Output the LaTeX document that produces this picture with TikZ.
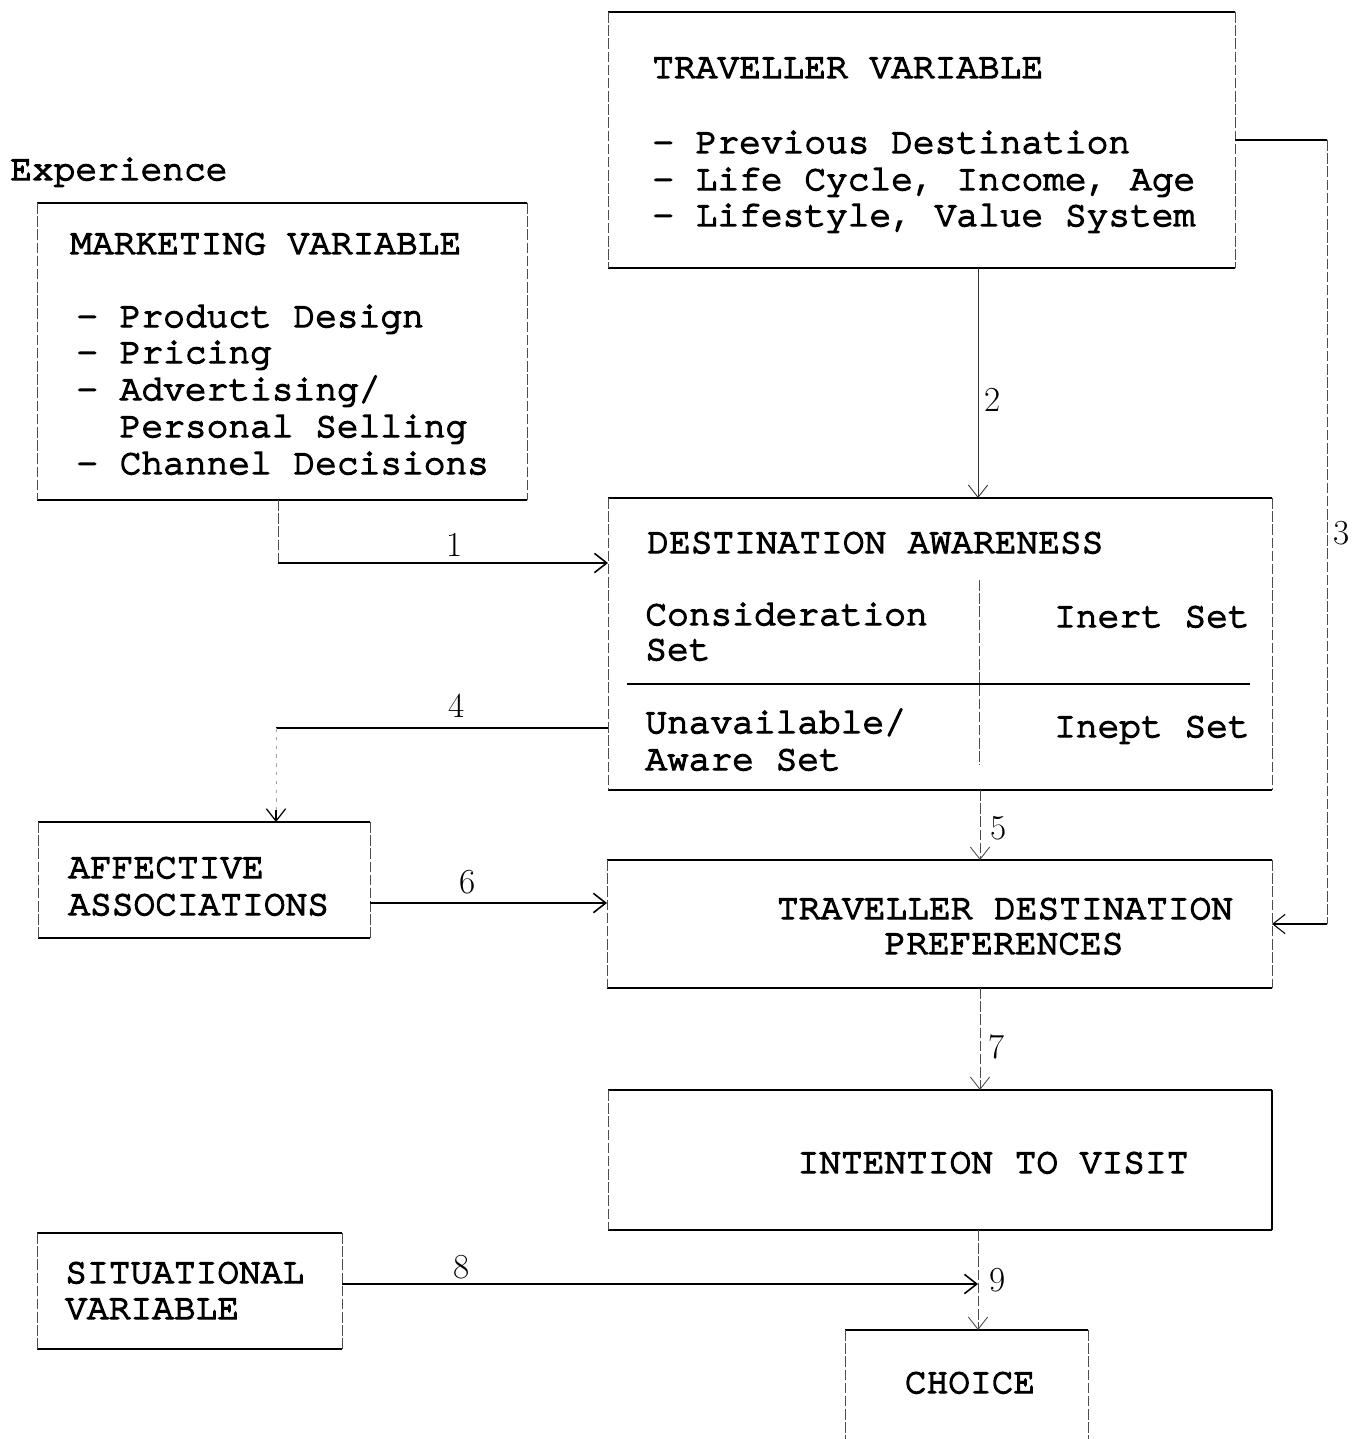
\documentclass[tikz,border=0pt]{standalone}
\usepackage{fontspec}
\newfontfamily\tw{TeX Gyre Cursor}[FakeBold=4]
\usetikzlibrary{arrows.meta,fit,calc}

% solid top/bottom rules, light broken sides, as on a typed sheet
\newcommand{\scanframe}[1]{%
  \draw[hline] (#1.north west) -- (#1.north east);
  \draw[hline] (#1.south west) -- (#1.south east);
  \draw[vline] (#1.north west) -- (#1.south west);
  \draw[vline] (#1.north east) -- (#1.south east);}

\tikzset{
  box/.style={inner sep=0pt, outer sep=0pt, draw=none},
  hline/.style={line width=1.1pt, black},
  vline/.style={line width=0.5pt, black!70, dash pattern=on 6pt off 1.5pt},
  faintline/.style={line width=0.4pt, black!35, dash pattern=on 2pt off 3pt},
  tt/.style={font=\tw\fontsize{20.6}{21}\selectfont, inner sep=0pt, anchor=base west},
  ttr/.style={tt, anchor=base east},
  ttc/.style={tt, anchor=base},
  num/.style={font=\fontsize{20}{20}\selectfont, inner sep=0pt},
  arr/.style={-{Straight Barb[length=7pt,width=11pt]}},
}

\begin{document}
\begin{tikzpicture}[x=0.02cm,y=-0.02cm]
\useasboundingbox (0,0) rectangle (1363,1439);

% boxes
\node[box, fit={(608,12) (1235,268)}] (tv) {};
\node[box, fit={(37,203) (527,500)}] (mk) {};
\node[box, fit={(608,498) (1272,790)}] (da) {};
\node[box, fit={(607,860) (1272,988)}] (tdp) {};
\node[box, fit={(608,1090) (1272,1230)}] (itv) {};
\node[box, fit={(38,822) (370,938)}] (aff) {};
\node[box, fit={(37,1233) (342,1349)}] (sit) {};
\node[box, fit={(845,1330) (1088,1439)}] (cho) {};

\scanframe{tv}
\scanframe{mk}
\scanframe{da}
\scanframe{tdp}
\scanframe{aff}
\scanframe{sit}
\draw[hline] (itv.north west) -- (itv.north east);
\draw[hline] (itv.south west) -- (itv.south east);
\draw[vline] (itv.north west) -- (itv.south west);
\draw[line width=0.8pt] (itv.north east) -- (itv.south east);
\draw[hline] (cho.north west) -- (cho.north east);
\draw[vline] (cho.north west) -- (cho.south west);
\draw[vline] (cho.north east) -- (cho.south east);

% inner division of the awareness box
\coordinate (dv) at (979,580);
\draw[line width=0.9pt] (627,684) -- (1250,684);
\draw[vline] (dv) -- (979,765);

% texts
\node[tt] (exp) at (10,180) {Experience};

\node[tt] (mkt) at (70,254) {MARKETING VARIABLE};
\node[tt] (mk1) at (76,327) {- Product Design};
\node[tt] (mk2) at (76,363) {- Pricing};
\node[tt] (mk3) at (76,400) {- Advertising/};
\node[tt] (mk4) at (76,437) {\phantom{- }Personal Selling};
\node[tt] (mk5) at (76,474) {- Channel Decisions};

\node[tt] (tvt) at (652,78) {TRAVELLER VARIABLE};
\node[tt] (tv1) at (652,153) {- Previous Destination};
\node[tt] (tv2) at (652,190) {- Life Cycle, Income, Age};
\node[tt] (tv3) at (652,226) {- Lifestyle, Value System};

\node[tt] (dat) at (647,553) {DESTINATION AWARENESS};
\node[tt] (cs1) at (645,625) {Consideration};
\node[tt] (cs2) at (645,660) {Set};
\node[ttr] (ins) at (1250,627) {Inert Set};
\node[tt] (ua1) at (645,733) {Unavailable/};
\node[tt] (ua2) at (645,770) {Aware Set};
\node[ttr] (ips) at (1250,737) {Inept Set};

\node[tt] (af1) at (68,878) {AFFECTIVE};
\node[tt] (af2) at (68,915) {ASSOCIATIONS};

\node[ttc] (tp1) at (1005,919) {TRAVELLER DESTINATION};
\node[ttc] (tp2) at (1004,954) {PREFERENCES};

\node[ttc] (itt) at (993,1173) {INTENTION TO VISIT};

\node[tt] (si1) at (65,1283) {SITUATIONAL};
\node[tt] (si2) at (65,1319) {VARIABLE};

\node[ttc] (cht) at (970,1393) {CHOICE};

% connectors
\coordinate (k1) at (278,563);
\draw[vline] (mk.south -| k1) -- (k1);
\draw[hline, line width=0.9pt, arr] (k1) -- (k1 -| da.west);
\node[num] (n1) at (455,545) {1};

\coordinate (x2) at (978,0);
\draw[line width=0.5pt, black!80, arr] (tv.south -| x2) -- (da.north -| x2);
\node[num] (n2) at (993,400) {2};

\coordinate (k3) at (1327,140);
\draw[hline, line width=0.9pt] (k3 -| tv.east) -- (k3);
\draw[vline] (k3) -- (k3 |- tdp.east);
\draw[line width=0.6pt, arr] (k3 |- tdp.east) -- (tdp.east);
\node[num] (n3) at (1342,533) {3};

\coordinate (k4) at (276,728);
\coordinate (k4b) at ($(k4 |- aff.north)+(0,-12)$);
\draw[hline, line width=0.9pt] (k4 -| da.west) -- (k4);
\draw[faintline] (k4) -- (k4b);
\draw[line width=0.7pt, arr] (k4b) -- (k4 |- aff.north);
\node[num] (n4) at (457,706) {4};

\coordinate (x5) at (980,0);
\draw[vline, arr] (da.south -| x5) -- (tdp.north -| x5);
\node[num] (n5) at (999,828) {5};

\coordinate (k6) at (0,903);
\draw[hline, line width=0.9pt, arr] (aff.east |- k6) -- (k6 -| tdp.west);
\node[num] (n6) at (468,882) {6};

\draw[vline, arr] (tdp.south -| x5) -- (itv.north -| x5);
\node[num] (n7) at (997,1047) {7};

\coordinate (x9) at (978,0);
\coordinate (k8) at (0,1284);
\draw[hline, line width=0.9pt, arr] (sit.east |- k8) -- (x9 |- k8);
\node[num] (n8) at (462,1267) {8};

\draw[vline, arr] (itv.south -| x9) -- (cho.north -| x9);
\node[num] (n9) at (998,1280) {9};
\end{tikzpicture}
\end{document}
